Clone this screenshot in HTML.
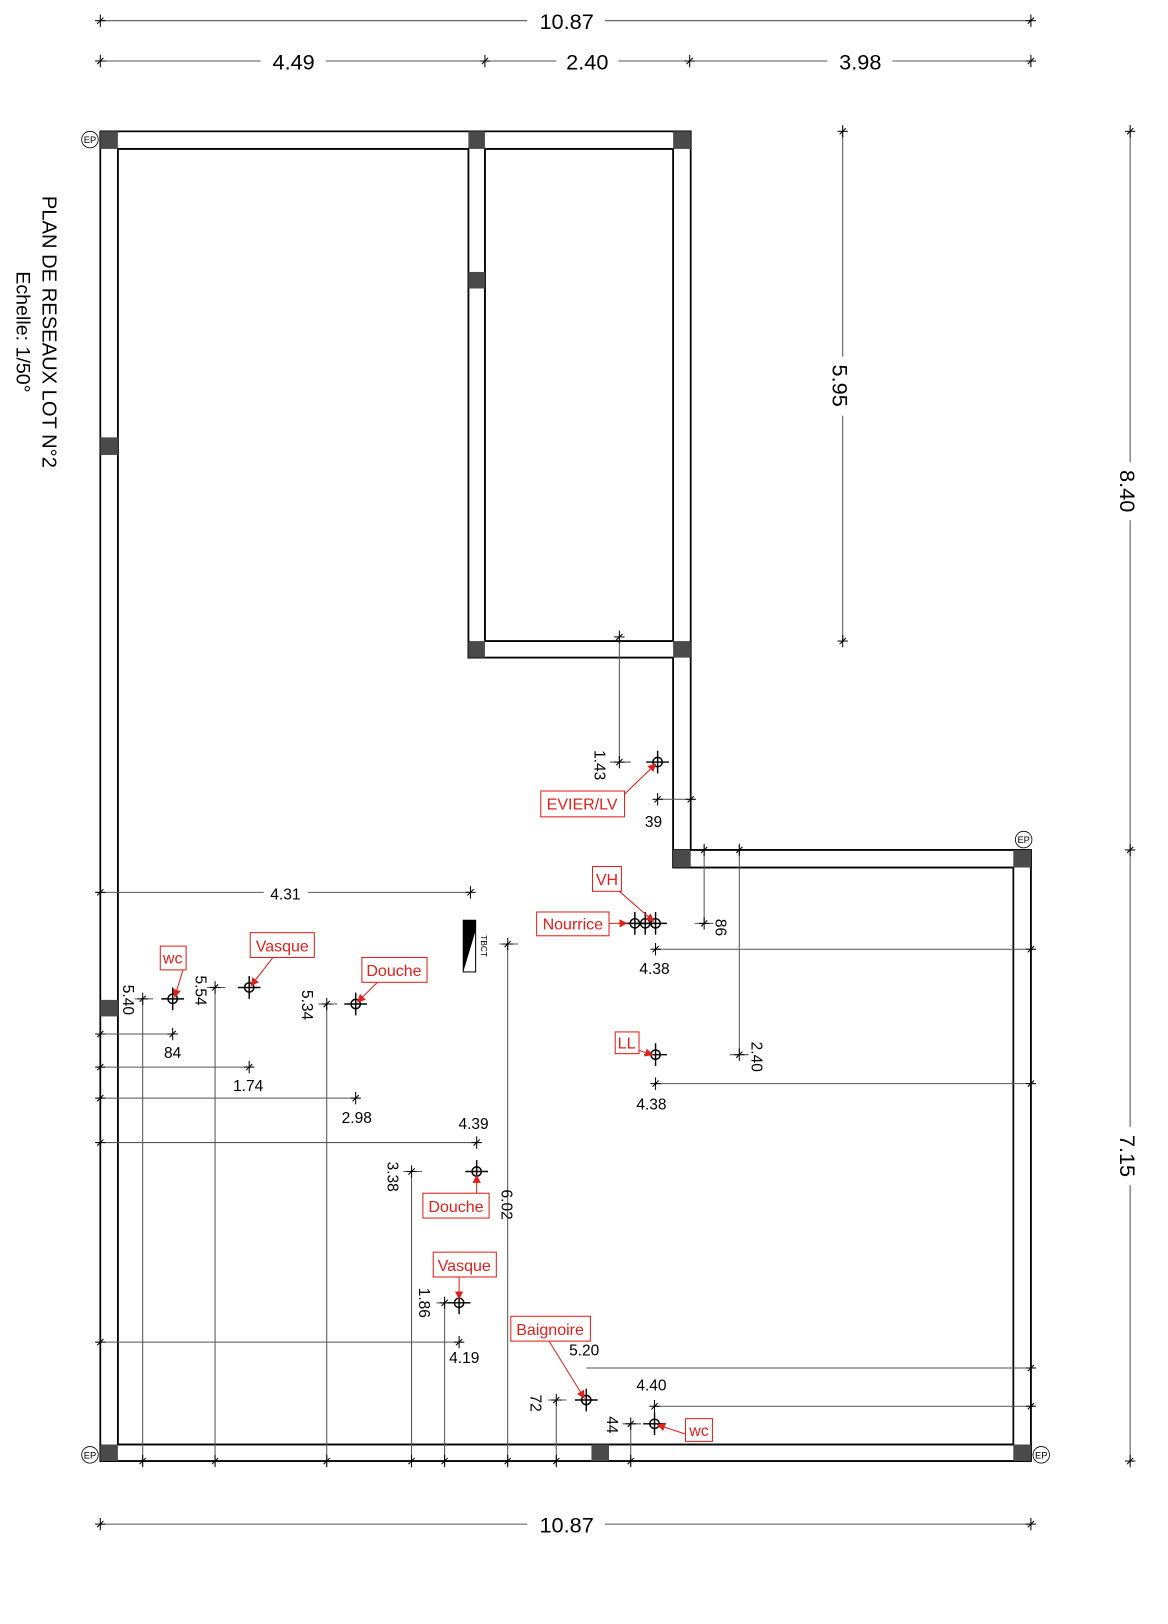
<!DOCTYPE html>
<html><head><meta charset="utf-8"><style>
html,body{margin:0;padding:0;background:#fff;}
svg{display:block;}
text{font-family:"Liberation Sans",Arial,sans-serif;}
.d{font-size:15px;fill:#000;}
.D{font-size:21px;fill:#000;}
.r{font-size:15.5px;fill:#e0201c;}
.ln{stroke:#555;stroke-width:1;fill:none;}
.tk{stroke:#000;stroke-width:1;}
.w{fill:#fff;stroke:#000;stroke-width:1.6;}
.p{fill:#4a4a4a;}
.rb{fill:#fff;stroke:#e0201c;stroke-width:1;}
.ra{stroke:#e0201c;stroke-width:1;}
</style></head><body>
<svg width="1168" height="1624" viewBox="0 0 1129.6 1570.6" xmlns="http://www.w3.org/2000/svg">
<defs>
<marker id="ar" markerWidth="8" markerHeight="8" refX="7" refY="4" orient="auto" markerUnits="userSpaceOnUse"><path d="M0,0 L8,4 L0,8 z" fill="#e0201c"/></marker>
<g id="fx"><circle r="4.5" fill="none" stroke="#000" stroke-width="1.4"/><line x1="-11" y1="0" x2="11" y2="0" stroke="#000" stroke-width="1.4"/><line x1="0" y1="-11" x2="0" y2="11" stroke="#000" stroke-width="1.4"/></g>
<g id="th"><line x1="-5" y1="0" x2="5" y2="0" class="tk"/><line x1="0" y1="-6" x2="0" y2="6" class="tk"/><line x1="-3" y1="3" x2="3" y2="-3" class="tk"/></g>
<g id="ep"><circle r="8" fill="#fff" stroke="#000" stroke-width="0.8"/><text x="0" y="3.5" text-anchor="middle" style="font-size:9px">EP</text></g>
</defs>

<line x1="97" y1="20" x2="510" y2="20" class="ln"/><line x1="585" y1="20" x2="997" y2="20" class="ln"/>
<use href="#th" x="97" y="20"/><use href="#th" x="997" y="20"/>
<text x="548" y="28" class="D" text-anchor="middle">10.87</text>
<line x1="97" y1="59" x2="252" y2="59" class="ln"/><line x1="315" y1="59" x2="538" y2="59" class="ln"/><line x1="598" y1="59" x2="800" y2="59" class="ln"/><line x1="863" y1="59" x2="997" y2="59" class="ln"/>
<use href="#th" x="97" y="59"/><use href="#th" x="469" y="59"/><use href="#th" x="667" y="59"/><use href="#th" x="997" y="59"/>
<text x="284" y="67" class="D" text-anchor="middle">4.49</text>
<text x="568" y="67" class="D" text-anchor="middle">2.40</text>
<text x="832" y="67" class="D" text-anchor="middle">3.98</text>
<line x1="97" y1="1474" x2="510" y2="1474" class="ln"/><line x1="585" y1="1474" x2="997" y2="1474" class="ln"/>
<use href="#th" x="97" y="1474"/><use href="#th" x="997" y="1474"/>
<text x="548" y="1482" class="D" text-anchor="middle">10.87</text>
<line x1="815" y1="127" x2="815" y2="345" class="ln"/><line x1="815" y1="402" x2="815" y2="620" class="ln"/>
<use href="#th" x="815" y="127"/><use href="#th" x="815" y="620"/>
<text transform="translate(805,373) rotate(90)" class="D" text-anchor="middle">5.95</text>
<line x1="1093" y1="127" x2="1093" y2="447" class="ln"/><line x1="1093" y1="503" x2="1093" y2="1090" class="ln"/><line x1="1093" y1="1146" x2="1093" y2="1413" class="ln"/>
<use href="#th" x="1093" y="127"/><use href="#th" x="1093" y="822"/><use href="#th" x="1093" y="1413"/>
<text transform="translate(1083,475) rotate(90)" class="D" text-anchor="middle">8.40</text>
<text transform="translate(1083,1118) rotate(90)" class="D" text-anchor="middle">7.15</text>
<text transform="translate(41,321) rotate(90)" style="font-size:19.5px" text-anchor="middle">PLAN DE RESEAUX LOT N°2</text>
<text transform="translate(16,321) rotate(90)" style="font-size:19px" text-anchor="middle">Echelle: 1/50°</text>

<rect x="97" y="127" width="571" height="17" class="w"/>
<rect x="97" y="127" width="17" height="1286" class="w"/>
<rect x="97" y="1397" width="900" height="16" class="w"/>
<rect x="980" y="822" width="17" height="591" class="w"/>
<rect x="651" y="822" width="346" height="17" class="w"/>
<rect x="651" y="127" width="17" height="712" class="w"/>
<rect x="453" y="127" width="16" height="509" class="w"/>
<rect x="453" y="620" width="215" height="16" class="w"/>
<rect x="98" y="128" width="15" height="1284" fill="#fff"/>
<rect x="98" y="128" width="569" height="15" fill="#fff"/>
<rect x="98" y="1398" width="898" height="14" fill="#fff"/>
<rect x="981" y="823" width="15" height="589" fill="#fff"/>
<rect x="652" y="823" width="344" height="15" fill="#fff"/>
<rect x="652" y="128" width="15" height="710" fill="#fff"/>
<rect x="454" y="128" width="14" height="507" fill="#fff"/>
<rect x="454" y="621" width="213" height="14" fill="#fff"/>
<g stroke="#000" stroke-width="1.6">
<line x1="97" y1="127" x2="668" y2="127"/><line x1="114" y1="144" x2="453" y2="144"/><line x1="469" y1="144" x2="651" y2="144"/>
<line x1="97" y1="127" x2="97" y2="1413"/><line x1="114" y1="144" x2="114" y2="1397"/>
<line x1="97" y1="1413" x2="997" y2="1413"/><line x1="114" y1="1397" x2="980" y2="1397"/>
<line x1="997" y1="822" x2="997" y2="1413"/><line x1="980" y1="839" x2="980" y2="1397"/>
<line x1="651" y1="822" x2="997" y2="822"/><line x1="668" y1="839" x2="980" y2="839"/>
<line x1="668" y1="127" x2="668" y2="822"/><line x1="651" y1="636" x2="651" y2="822"/><line x1="651" y1="144" x2="651" y2="620"/>
<line x1="453" y1="144" x2="453" y2="636"/><line x1="469" y1="144" x2="469" y2="620"/>
<line x1="453" y1="636" x2="651" y2="636"/><line x1="469" y1="620" x2="651" y2="620"/>
</g>
<rect x="97" y="127" width="17" height="17" class="p"/><rect x="453" y="127" width="16" height="17" class="p"/><rect x="651" y="127" width="17" height="17" class="p"/>
<rect x="453" y="263" width="16" height="16" class="p"/><rect x="97" y="423" width="17" height="17" class="p"/>
<rect x="453" y="620" width="16" height="16" class="p"/><rect x="651" y="620" width="17" height="16" class="p"/>
<rect x="651" y="822" width="17" height="17" class="p"/><rect x="980" y="822" width="17" height="17" class="p"/>
<rect x="97" y="967" width="17" height="16" class="p"/><rect x="97" y="1397" width="17" height="16" class="p"/>
<rect x="572" y="1397" width="17" height="16" class="p"/><rect x="980" y="1397" width="17" height="16" class="p"/>
<use href="#ep" x="87" y="135"/><use href="#ep" x="87" y="1407"/><use href="#ep" x="990" y="812"/><use href="#ep" x="1007" y="1407"/>

<g class="ln">
<line x1="599" y1="616" x2="599" y2="737"/><line x1="590" y1="737" x2="610" y2="737"/>
<line x1="636" y1="773" x2="672" y2="773"/>
<line x1="681" y1="818" x2="681" y2="893"/><line x1="672" y1="893" x2="690" y2="893"/>
<line x1="715" y1="818" x2="715" y2="1020"/><line x1="706" y1="1020" x2="724" y2="1020"/>
<line x1="634" y1="918" x2="1000" y2="918"/><line x1="634" y1="1048" x2="1000" y2="1048"/>
<line x1="93" y1="863" x2="255" y2="863"/><line x1="298" y1="863" x2="455" y2="863"/>
<line x1="93" y1="1000" x2="170" y2="1000"/><line x1="93" y1="1032" x2="244" y2="1032"/><line x1="93" y1="1062" x2="348" y2="1062"/>
<line x1="93" y1="1105" x2="465" y2="1105"/><line x1="93" y1="1298" x2="448" y2="1298"/>
<line x1="567" y1="1323" x2="1000" y2="1323"/><line x1="633" y1="1360" x2="1000" y2="1360"/>
<line x1="138" y1="966" x2="138" y2="1417"/><line x1="130" y1="966" x2="148" y2="966"/>
<line x1="208" y1="955" x2="208" y2="1417"/><line x1="200" y1="955" x2="218" y2="955"/>
<line x1="316" y1="971" x2="316" y2="1417"/><line x1="308" y1="971" x2="326" y2="971"/>
<line x1="398" y1="1133" x2="398" y2="1417"/><line x1="390" y1="1133" x2="408" y2="1133"/>
<line x1="430" y1="1260" x2="430" y2="1417"/><line x1="422" y1="1260" x2="440" y2="1260"/>
<line x1="491" y1="913" x2="491" y2="1417"/><line x1="483" y1="913" x2="501" y2="913"/>
<line x1="538" y1="1354" x2="538" y2="1417"/><line x1="530" y1="1354" x2="548" y2="1354"/>
<line x1="610" y1="1377" x2="610" y2="1417"/><line x1="602" y1="1377" x2="620" y2="1377"/>
</g>
<g>
<use href="#th" x="599" y="616"/><use href="#th" x="599" y="737"/><use href="#th" x="636" y="773"/><use href="#th" x="668" y="773"/>
<use href="#th" x="681" y="822"/><use href="#th" x="681" y="893"/><use href="#th" x="715" y="822"/><use href="#th" x="715" y="1020"/>
<use href="#th" x="634" y="918"/><use href="#th" x="997" y="918"/><use href="#th" x="634" y="1048"/><use href="#th" x="997" y="1048"/>
<use href="#th" x="97" y="863"/><use href="#th" x="455" y="863"/><use href="#th" x="97" y="1000"/><use href="#th" x="167" y="1000"/>
<use href="#th" x="97" y="1032"/><use href="#th" x="241" y="1032"/><use href="#th" x="97" y="1062"/><use href="#th" x="344" y="1062"/>
<use href="#th" x="97" y="1105"/><use href="#th" x="461" y="1105"/><use href="#th" x="97" y="1298"/><use href="#th" x="444" y="1298"/>
<use href="#th" x="997" y="1323"/><use href="#th" x="997" y="1360"/><use href="#th" x="633" y="1360"/>
<use href="#th" x="138" y="1413"/><use href="#th" x="208" y="1413"/><use href="#th" x="316" y="1413"/><use href="#th" x="398" y="1413"/>
<use href="#th" x="430" y="1413"/><use href="#th" x="491" y="1413"/><use href="#th" x="538" y="1413"/><use href="#th" x="610" y="1413"/>
<use href="#th" x="138" y="966"/><use href="#th" x="208" y="955"/><use href="#th" x="316" y="971"/><use href="#th" x="398" y="1133"/>
<use href="#th" x="430" y="1260"/><use href="#th" x="491" y="913"/><use href="#th" x="538" y="1354"/><use href="#th" x="610" y="1377"/>
</g>
<text transform="translate(575,740) rotate(90)" class="d" text-anchor="middle">1.43</text>
<text x="632" y="800" class="d" text-anchor="middle">39</text>
<text transform="translate(692,897) rotate(90)" class="d" text-anchor="middle">86</text>
<text transform="translate(727,1022) rotate(90)" class="d" text-anchor="middle">2.40</text>
<text x="633" y="942" class="d" text-anchor="middle">4.38</text>
<text x="630" y="1073" class="d" text-anchor="middle">4.38</text>
<text x="276" y="870" class="d" text-anchor="middle">4.31</text>
<text x="167" y="1023" class="d" text-anchor="middle">84</text>
<text x="240" y="1055" class="d" text-anchor="middle">1.74</text>
<text x="345" y="1086" class="d" text-anchor="middle">2.98</text>
<text x="458" y="1092" class="d" text-anchor="middle">4.39</text>
<text x="449" y="1318" class="d" text-anchor="middle">4.19</text>
<text x="565" y="1311" class="d" text-anchor="middle">5.20</text>
<text x="630" y="1345" class="d" text-anchor="middle">4.40</text>
<text transform="translate(119,967) rotate(90)" class="d" text-anchor="middle">5.40</text>
<text transform="translate(189,958) rotate(90)" class="d" text-anchor="middle">5.54</text>
<text transform="translate(292,972) rotate(90)" class="d" text-anchor="middle">5.34</text>
<text transform="translate(375,1138) rotate(90)" class="d" text-anchor="middle">3.38</text>
<text transform="translate(405,1260) rotate(90)" class="d" text-anchor="middle">1.86</text>
<text transform="translate(485,1165) rotate(90)" class="d" text-anchor="middle">6.02</text>
<text transform="translate(513,1357) rotate(90)" class="d" text-anchor="middle">72</text>
<text transform="translate(587,1378) rotate(90)" class="d" text-anchor="middle">44</text>
<rect x="448" y="890" width="12" height="50" fill="#fff" stroke="#000" stroke-width="1"/>
<path d="M448,890 L460,890 L460,900 L448,940 z" fill="#000"/>
<text transform="translate(465,915) rotate(90)" style="font-size:8px" text-anchor="middle">TBCT</text>

<use href="#fx" x="636" y="737"/><use href="#fx" x="614" y="893"/><use href="#fx" x="624" y="893"/><use href="#fx" x="634" y="893"/>
<use href="#fx" x="634" y="1020"/><use href="#fx" x="167" y="966"/><use href="#fx" x="241" y="955"/><use href="#fx" x="344" y="971"/>
<use href="#fx" x="461" y="1133"/><use href="#fx" x="444" y="1260"/><use href="#fx" x="567" y="1354"/><use href="#fx" x="633" y="1377"/>

<g>
<line x1="604" y1="768" x2="634" y2="739" class="ra" marker-end="url(#ar)"/>
<rect x="523" y="765" width="81" height="25" class="rb"/><text x="563" y="783" class="r" text-anchor="middle">EVIER/LV</text>
<line x1="599" y1="862" x2="632" y2="891" class="ra" marker-end="url(#ar)"/>
<rect x="573" y="838" width="28" height="24" class="rb"/><text x="587" y="856" class="r" text-anchor="middle">VH</text>
<line x1="589" y1="893" x2="606" y2="893" class="ra" marker-end="url(#ar)"/>
<rect x="519" y="882" width="70" height="23" class="rb"/><text x="554" y="899" class="r" text-anchor="middle">Nourrice</text>
<line x1="618" y1="1016" x2="631" y2="1020" class="ra" marker-end="url(#ar)"/>
<rect x="595" y="998" width="23" height="21" class="rb"/><text x="606" y="1014" class="r" text-anchor="middle">LL</text>
<line x1="177" y1="938" x2="169" y2="964" class="ra" marker-end="url(#ar)"/>
<rect x="155" y="915" width="25" height="23" class="rb"/><text x="167" y="932" class="r" text-anchor="middle">wc</text>
<line x1="264" y1="926" x2="243" y2="953" class="ra" marker-end="url(#ar)"/>
<rect x="242" y="902" width="62" height="24" class="rb"/><text x="273" y="920" class="r" text-anchor="middle">Vasque</text>
<line x1="365" y1="950" x2="346" y2="969" class="ra" marker-end="url(#ar)"/>
<rect x="350" y="926" width="63" height="24" class="rb"/><text x="381" y="944" class="r" text-anchor="middle">Douche</text>
<line x1="461" y1="1154" x2="461" y2="1137" class="ra" marker-end="url(#ar)"/>
<rect x="409" y="1154" width="64" height="24" class="rb"/><text x="441" y="1172" class="r" text-anchor="middle">Douche</text>
<line x1="444" y1="1235" x2="444" y2="1256" class="ra" marker-end="url(#ar)"/>
<rect x="419" y="1211" width="61" height="24" class="rb"/><text x="449" y="1229" class="r" text-anchor="middle">Vasque</text>
<line x1="531" y1="1297" x2="565" y2="1352" class="ra" marker-end="url(#ar)"/>
<rect x="494" y="1273" width="77" height="24" class="rb"/><text x="532" y="1291" class="r" text-anchor="middle">Baignoire</text>
<line x1="663" y1="1387" x2="636" y2="1378" class="ra" marker-end="url(#ar)"/>
<rect x="663" y="1372" width="26" height="22" class="rb"/><text x="676" y="1389" class="r" text-anchor="middle">wc</text>
</g>
</svg>
</body></html>
